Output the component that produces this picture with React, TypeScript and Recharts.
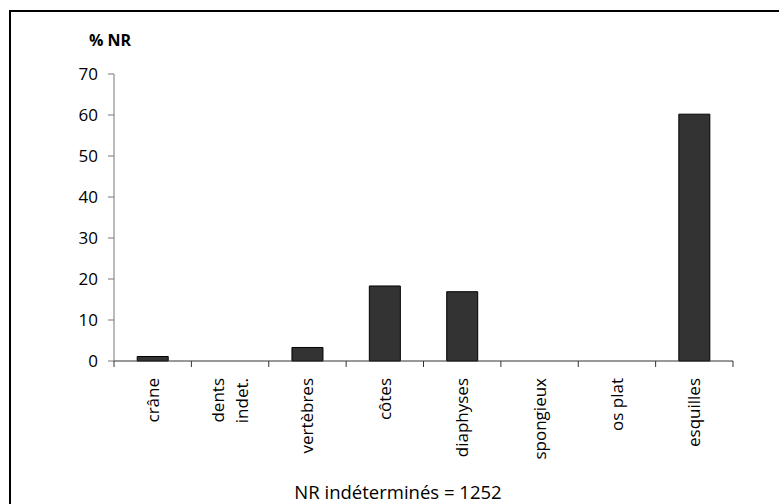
import React from "react";
import { BarChart, Bar, XAxis, YAxis } from "recharts";

// categories and values (% NR)
const categories = [
  "crâne",
  "dents\nindet.",
  "vertèbres",
  "côtes",
  "diaphyses",
  "spongieux",
  "os plat",
  "esquilles",
];
const percentNR = [1.1, 0, 3.3, 18.3, 16.9, 0, 0, 60.2];
const yTicks = [0, 10, 20, 30, 40, 50, 60, 70];

const data = categories.map((cat, i) => ({ cat, value: percentNR[i] }));

const FONT = "'Open Sans', 'DejaVu Sans', sans-serif";
const PLOT_LEFT = 114;
const PLOT_RIGHT = 733;
const BAND = (PLOT_RIGHT - PLOT_LEFT) / categories.length;

function CategoryTick(props: {
  x?: number;
  y?: number;
  index?: number;
  payload?: { value: string; offset?: number; index?: number };
}) {
  const { x = 0, y = 0, payload } = props;
  const idx = props.index ?? payload?.index ?? 0;
  const half = payload?.offset && payload.offset > 0 ? payload.offset : BAND / 2;
  const lines = String(payload?.value ?? "").split("\n");
  const y0 = y + 17;
  const lh = 23.5;
  return (
    <g>
      <line x1={x - half} y1={y} x2={x - half} y2={y + 6} stroke="#333" />
      {idx === categories.length - 1 && (
        <line x1={x + half} y1={y} x2={x + half} y2={y + 6} stroke="#333" />
      )}
      <text
        x={x}
        y={y0}
        transform={`rotate(-90, ${x}, ${y0})`}
        textAnchor="end"
        fontFamily={FONT}
        fontSize={17}
        fill="#000"
      >
        {lines.map((l, i) => (
          <tspan key={i} x={x} dy={i === 0 ? 6 - ((lines.length - 1) * lh) / 2 : lh}>
            {l}
          </tspan>
        ))}
      </text>
    </g>
  );
}

export default function App() {
  return (
    <div style={{ position: "absolute", left: 0, top: 0, width: 779, height: 504, background: "#fff" }}>
      <div
        style={{
          position: "absolute",
          left: 9,
          top: 10,
          width: 770,
          height: 494,
          borderTop: "2px solid #000",
          borderLeft: "2px solid #000",
        }}
      />
      <div
        style={{
          position: "absolute",
          left: 89,
          top: 30,
          fontFamily: FONT,
          fontSize: 16,
          fontWeight: 700,
          lineHeight: "21px",
          whiteSpace: "nowrap",
        }}
      >
        % NR
      </div>
      <BarChart
        width={779}
        height={504}
        data={data}
        margin={{ top: 74, right: 779 - PLOT_RIGHT, bottom: 0, left: 0 }}
        barCategoryGap="30%"
      >
        <XAxis
          dataKey="cat"
          height={143}
          interval={0}
          tickSize={0}
          tickMargin={0}
          tickLine={false}
          axisLine={{ stroke: "#333" }}
          tick={<CategoryTick />}
        />
        <YAxis
          width={PLOT_LEFT}
          domain={[0, 70]}
          ticks={yTicks}
          interval={0}
          tickSize={6}
          tickMargin={10}
          axisLine={{ stroke: "#777" }}
          tickLine={{ stroke: "#777" }}
          tick={{ fontFamily: FONT, fontSize: 17, fill: "#000" }}
        />
        <Bar dataKey="value" fill="#333333" stroke="#000" strokeWidth={1} isAnimationActive={false} />
      </BarChart>
      <div
        style={{
          position: "absolute",
          left: 248,
          top: 479,
          width: 300,
          textAlign: "center",
          fontFamily: FONT,
          fontSize: 18.5,
          lineHeight: "25px",
          whiteSpace: "nowrap",
        }}
      >
        NR indéterminés = 1252
      </div>
    </div>
  );
}
